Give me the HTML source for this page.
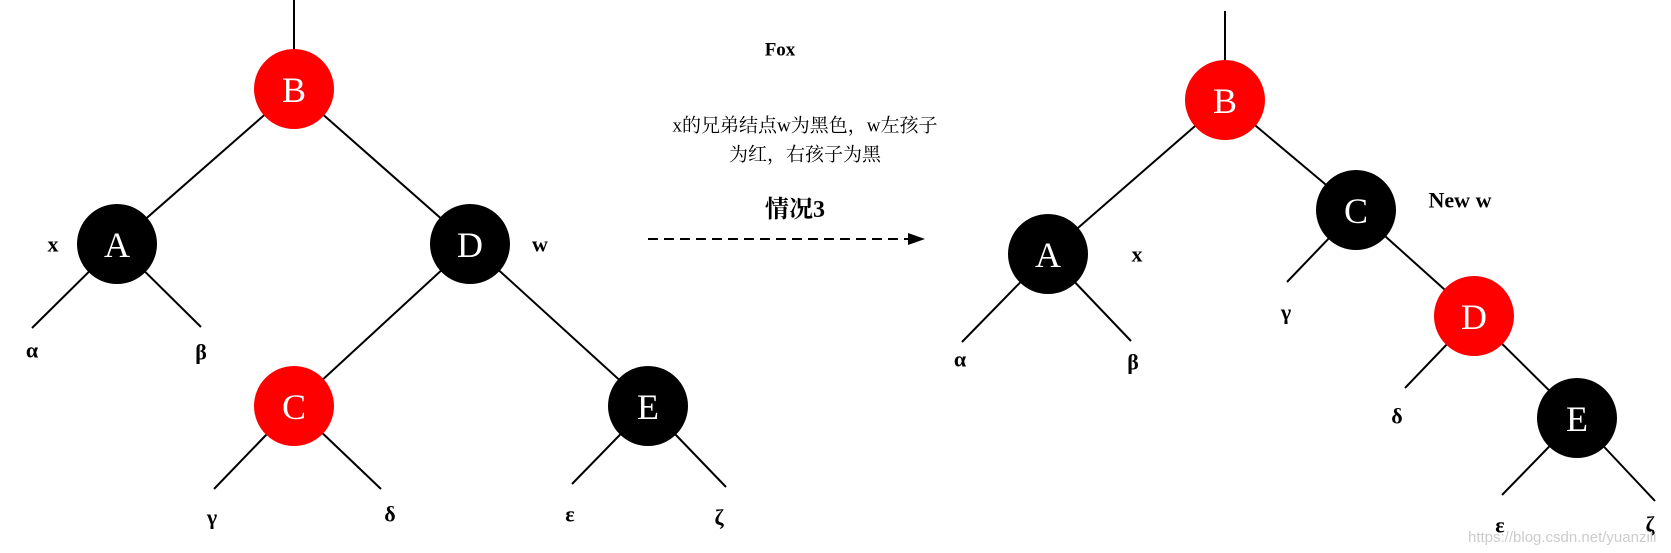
<!DOCTYPE html>
<html><head><meta charset="utf-8"><style>
html,body{margin:0;padding:0;background:#fff;}
svg{display:block;}
.n{font-family:"Liberation Serif",serif;font-size:36px;fill:#fff;text-anchor:middle;dominant-baseline:central;}
.g{font-family:"Liberation Serif",serif;font-size:22px;font-weight:bold;fill:#000;text-anchor:middle;dominant-baseline:central;}
.c{font-family:"Liberation Serif","Noto Serif CJK SC",serif;fill:#000;text-anchor:middle;dominant-baseline:central;}
</style></head><body>
<svg width="1671" height="553" viewBox="0 0 1671 553" xmlns="http://www.w3.org/2000/svg">
<g stroke="#000" stroke-width="2">
<line x1="294" y1="0" x2="294" y2="89"/>
<line x1="294" y1="89" x2="117" y2="244"/>
<line x1="294" y1="89" x2="470" y2="244"/>
<line x1="117" y1="244" x2="32" y2="328"/>
<line x1="117" y1="244" x2="201" y2="327"/>
<line x1="470" y1="244" x2="294" y2="406"/>
<line x1="470" y1="244" x2="648" y2="406"/>
<line x1="294" y1="406" x2="214" y2="489"/>
<line x1="294" y1="406" x2="381" y2="489"/>
<line x1="648" y1="406" x2="572" y2="484"/>
<line x1="648" y1="406" x2="726" y2="487"/>
<line x1="1225" y1="11" x2="1225" y2="100"/>
<line x1="1225" y1="100" x2="1048" y2="254"/>
<line x1="1225" y1="100" x2="1356" y2="210"/>
<line x1="1048" y1="254" x2="962" y2="342"/>
<line x1="1048" y1="254" x2="1131" y2="341"/>
<line x1="1356" y1="210" x2="1287" y2="282"/>
<line x1="1356" y1="210" x2="1474" y2="316"/>
<line x1="1474" y1="316" x2="1405" y2="388"/>
<line x1="1474" y1="316" x2="1577" y2="418"/>
<line x1="1577" y1="418" x2="1502" y2="495"/>
<line x1="1577" y1="418" x2="1655" y2="501"/>
<line x1="648" y1="239" x2="908" y2="239" stroke-dasharray="10,6"/>
</g>
<polygon points="908,233 925,239 908,245" fill="#000"/>
<circle cx="294" cy="89" r="40" fill="#f00"/><text class="n" x="294" y="90">B</text>
<circle cx="117" cy="244" r="40" fill="#000"/><text class="n" x="117" y="245">A</text>
<circle cx="470" cy="244" r="40" fill="#000"/><text class="n" x="470" y="245">D</text>
<circle cx="294" cy="406" r="40" fill="#f00"/><text class="n" x="294" y="407">C</text>
<circle cx="648" cy="406" r="40" fill="#000"/><text class="n" x="648" y="407">E</text>
<circle cx="1225" cy="100" r="40" fill="#f00"/><text class="n" x="1225" y="101">B</text>
<circle cx="1048" cy="254" r="40" fill="#000"/><text class="n" x="1048" y="255">A</text>
<circle cx="1356" cy="210" r="40" fill="#000"/><text class="n" x="1356" y="211">C</text>
<circle cx="1474" cy="316" r="40" fill="#f00"/><text class="n" x="1474" y="317">D</text>
<circle cx="1577" cy="418" r="40" fill="#000"/><text class="n" x="1577" y="419">E</text>
<text class="g" x="53" y="244">x</text><text class="g" x="540" y="244">w</text>
<text class="g" x="32" y="350">α</text><text class="g" x="201" y="352">β</text>
<text class="g" x="212" y="517">γ</text><text class="g" x="390" y="514">δ</text>
<text class="g" x="570" y="514">ε</text><text class="g" x="719" y="517">ζ</text>
<text class="g" x="1137" y="254">x</text><text class="g" x="1460" y="200">New w</text>
<text class="g" x="1286" y="312">γ</text><text class="g" x="1397" y="416">δ</text>
<text class="g" x="960" y="359">α</text><text class="g" x="1133" y="362">β</text>
<text class="g" x="1500" y="525">ε</text><text class="g" x="1650" y="524">ζ</text>
<text class="c" x="780" y="50" font-size="19" font-weight="bold">Fox</text>
<text class="c" x="805" y="126" font-size="19">x的兄弟结点w为黑色，w左孩子</text>
<text class="c" x="805" y="155" font-size="19">为红，右孩子为黑</text>
<text class="c" x="795" y="210" font-size="24" font-weight="bold">情况3</text>
<text x="1468" y="542" font-family="Liberation Sans,sans-serif" font-size="15" fill="#ccc">https://blog.csdn.net/yuanzili</text>
</svg>
</body></html>
